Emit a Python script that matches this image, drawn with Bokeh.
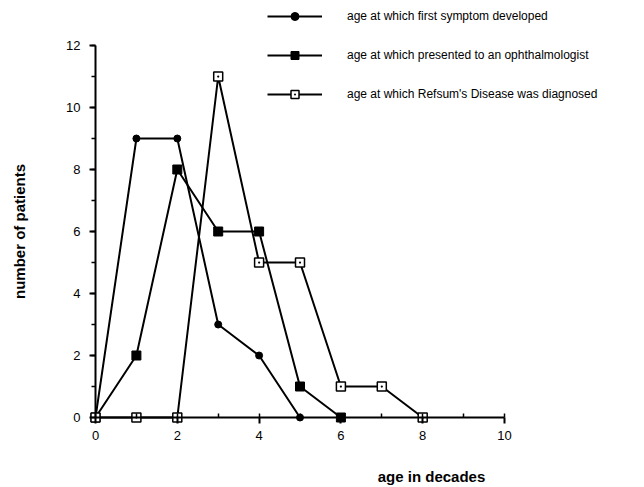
from bokeh.plotting import figure
from bokeh.models import (LinearAxis, SingleIntervalTicker, Range1d, Legend, LegendItem, Label)
from bokeh.embed import file_html
from bokeh.resources import INLINE

# data
decades_symptom = [0, 1, 2, 3, 4, 5]
patients_symptom = [0, 9, 9, 3, 2, 0]
decades_ophth = [0, 1, 2, 3, 4, 5, 6]
patients_ophth = [0, 2, 8, 6, 6, 1, 0]
decades_diag = [0, 1, 2, 3, 4, 5, 6, 7, 8]
patients_diag = [0, 0, 0, 11, 5, 5, 1, 1, 0]
series_names = ["age at which first symptom developed",
                "age at which presented to an ophthalmologist",
                "age at which Refsum's Disease was diagnosed"]
x_label = "age in decades"
y_label = "number of patients"

FONT = "Liberation Sans"
W, H = 644, 487
L, R, T, B = 0, 644, 0, 487
X0, XS = 95, 40.9
Y0, YS = 417, 31.0

p = figure(width=W, height=H, output_backend="svg", toolbar_location=None,
           x_axis_type=None, y_axis_type=None,
           min_border_left=L, min_border_right=W - R, min_border_top=T, min_border_bottom=H - B,
           x_range=Range1d((L - X0) / XS, (R - X0) / XS),
           y_range=Range1d((Y0 - B) / YS, (Y0 - T) / YS))
p.outline_line_color = None
p.xgrid.visible = False
p.ygrid.visible = False
p.background_fill_color = "white"
p.border_fill_color = "white"

xaxis = LinearAxis(fixed_location=0, bounds=(0, 10),
                   ticker=SingleIntervalTicker(interval=2, num_minor_ticks=2))
yaxis = LinearAxis(fixed_location=0, bounds=(0, 12),
                   ticker=SingleIntervalTicker(interval=2, num_minor_ticks=2))
for ax in (xaxis, yaxis):
    ax.axis_line_width = 2
    ax.axis_line_color = "black"
    ax.major_tick_line_width = 2
    ax.minor_tick_line_width = 1.5
    ax.major_tick_out = 6
    ax.major_tick_in = 0
    ax.major_label_text_font = FONT
    ax.major_label_text_font_size = "13px"
    ax.major_label_text_color = "black"
xaxis.minor_tick_in = 4
xaxis.minor_tick_out = 0
xaxis.major_label_standoff = 7
yaxis.minor_tick_in = 0
yaxis.minor_tick_out = 4
yaxis.major_label_standoff = 9
p.add_layout(xaxis, "below")
p.add_layout(yaxis, "left")

r1l = p.line(decades_symptom, patients_symptom, line_color="black", line_width=2)
r1m = p.scatter(decades_symptom, patients_symptom, marker="circle", size=7,
                fill_color="black", line_color="black")
r2l = p.line(decades_ophth, patients_ophth, line_color="black", line_width=2)
r2m = p.scatter(decades_ophth, patients_ophth, marker="square", size=9,
                fill_color="black", line_color="black")
r3l = p.line(decades_diag, patients_diag, line_color="black", line_width=2)
r3m = p.scatter(decades_diag, patients_diag, marker="square_dot", size=9,
                fill_color="white", line_color="black", line_width=1.5)

legend = Legend(items=[
    LegendItem(label=series_names[0], renderers=[r1l, r1m]),
    LegendItem(label=series_names[1], renderers=[r2l, r2m]),
    LegendItem(label=series_names[2], renderers=[r3l, r3m]),
], location=(267, 383))
legend.border_line_color = None
legend.background_fill_alpha = 0
legend.padding = 0
legend.margin = 0
legend.glyph_width = 55
legend.glyph_height = 20
legend.label_standoff = 25
legend.spacing = 19
legend.label_text_font = FONT
legend.label_text_font_size = "12px"
legend.label_text_color = "black"
p.add_layout(legend, "center")

p.add_layout(Label(x=431, y=H - 476, x_units="screen", y_units="screen", text=x_label,
                   text_font=FONT, text_font_size="15px", text_font_style="bold",
                   text_color="black", text_align="center", text_baseline="middle"))
p.add_layout(Label(x=19, y=H - 231, x_units="screen", y_units="screen", text=y_label,
                   text_font=FONT, text_font_size="15px", text_font_style="bold",
                   text_color="black", angle=1.5708, text_align="center",
                   text_baseline="middle"))

open("out.html", "w").write(file_html(p, INLINE))
